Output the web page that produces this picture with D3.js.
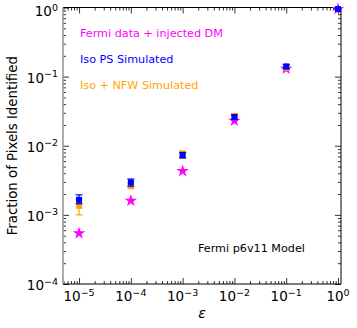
<!DOCTYPE html>
<html>
<head>
<meta charset="utf-8">
<script src="https://cdn.jsdelivr.net/npm/d3@7"></script>
<style>
  body { margin: 0; background: #fff; }
  text { font-family: "DejaVu Sans", sans-serif; }
</style>
</head>
<body>
<script>
// values
var eps = [1e-5, 1e-4, 1e-3, 1e-2, 1e-1, 1];
var fermiDM = [5.4e-4, 1.6e-3, 4.3e-3, 0.023, 0.13, 0.95];
var isoPS = [1.65e-3, 2.95e-3, 7.3e-3, 0.026, 0.14, 0.95];
var isoPSLo = [1.45e-3, 2.6e-3, 6.7e-3, 0.024, 0.13, 0.93];
var isoPSHi = [1.95e-3, 3.3e-3, 8.0e-3, 0.028, 0.15, 0.97];
var isoNFW = [1.35e-3, 2.65e-3, 7.6e-3, 0.027, 0.135, 0.95];
var isoNFWLo = [1.0e-3, 2.4e-3, 6.6e-3, 0.025, 0.125, 0.93];
var isoNFWHi = [1.7e-3, 2.9e-3, 8.4e-3, 0.029, 0.145, 0.97];
var xTickExp = [-5, -4, -3, -2, -1, 0];
var yTickExp = [-4, -3, -2, -1, 0];
var legendNames = ["Fermi data + injected DM", "Iso PS Simulated", "Iso + NFW Simulated"];
var legendColors = ["#ff00ff", "#0000ff", "#ffa500"];

var W = 357, H = 328;
var pLeft = 63, pRight = 341, pTop = 7.5, pBottom = 284;

var svg = d3.select("body").append("svg")
    .attr("width", W).attr("height", H);

var x = d3.scaleLog().domain([Math.pow(10, -5.31), Math.pow(10, 0.058)]).range([pLeft, pRight]);
var y = d3.scaleLog().domain([1e-4, 1]).range([pBottom, pTop]);

// minor ticks
function minors(lo, hi) {
    var out = [];
    for (var e = lo; e <= hi; e++) {
        for (var m = 2; m <= 9; m++) {
            out.push(m * Math.pow(10, e));
        }
    }
    return out;
}
var xMinor = minors(-6, 0).filter(function(v){ return v >= x.domain()[0] && v <= x.domain()[1]; });
var yMinor = minors(-4, -1);
var xMajor = xTickExp.map(function(e){ return Math.pow(10, e); });
var yMajor = yTickExp.map(function(e){ return Math.pow(10, e); });

function tickAxis(axisFn, scale, vals, size, tr) {
    var g = svg.append("g").attr("transform", tr)
        .call(axisFn(scale).tickValues(vals).tickSize(size).tickSizeOuter(0).tickFormat(""));
    g.select(".domain").remove();
    g.selectAll("line").attr("stroke", "#000").attr("stroke-width", 0.8);
    return g;
}
tickAxis(d3.axisBottom, x, xMajor, -6, "translate(0," + pBottom + ")");
tickAxis(d3.axisBottom, x, xMinor, -3, "translate(0," + pBottom + ")");
tickAxis(d3.axisTop, x, xMajor, -6, "translate(0," + pTop + ")");
tickAxis(d3.axisTop, x, xMinor, -3, "translate(0," + pTop + ")");
tickAxis(d3.axisLeft, y, yMajor, -6, "translate(" + pLeft + ",0)");
tickAxis(d3.axisLeft, y, yMinor, -3, "translate(" + pLeft + ",0)");
tickAxis(d3.axisRight, y, yMajor, -6, "translate(" + pRight + ",0)");
tickAxis(d3.axisRight, y, yMinor, -3, "translate(" + pRight + ",0)");

// frame
svg.append("line").attr("x1", pLeft).attr("x2", pRight).attr("y1", pTop).attr("y2", pTop).attr("stroke", "#000");
svg.append("line").attr("x1", pLeft).attr("x2", pRight).attr("y1", pBottom).attr("y2", pBottom).attr("stroke", "#000");
svg.append("line").attr("x1", pRight).attr("x2", pRight).attr("y1", pTop).attr("y2", pBottom).attr("stroke", "#000");
svg.append("line").attr("x1", pLeft).attr("x2", pLeft).attr("y1", pTop).attr("y2", pBottom)
    .attr("stroke", "#999").attr("stroke-width", 1.6);

// tick labels
function powLabel(sel, e) {
    sel.append("tspan").text("10");
    sel.append("tspan").attr("dy", -5.5).attr("font-size", 9.5).text(e < 0 ? "\u2212" + (-e) : "" + e);
}
xTickExp.forEach(function(e) {
    var t = svg.append("text").attr("x", x(Math.pow(10, e))).attr("y", 301)
        .attr("text-anchor", "middle").attr("font-size", 13.5);
    powLabel(t, e);
});
yTickExp.forEach(function(e) {
    var t = svg.append("text").attr("x", 58).attr("y", Math.max(y(Math.pow(10, e)) + 6, 16))
        .attr("text-anchor", "end").attr("font-size", 13.5);
    powLabel(t, e);
});

// axis titles
svg.append("text").attr("transform", "translate(17," + ((pTop + pBottom) / 2) + ") rotate(-90)")
    .attr("text-anchor", "middle").attr("font-size", 13.3).text("Fraction of Pixels Identified");
svg.append("text").attr("x", 202).attr("y", 318).attr("text-anchor", "middle")
    .attr("font-size", 14).attr("font-style", "italic").text("\u03b5");

// error bars
function errorBars(vals, lo, hi, color) {
    var g = svg.append("g").attr("stroke", color).attr("stroke-width", 1.2);
    eps.forEach(function(e, i) {
        var cx = x(e);
        g.append("line").attr("x1", cx).attr("x2", cx).attr("y1", y(lo[i])).attr("y2", y(hi[i]));
        g.append("line").attr("x1", cx - 3.5).attr("x2", cx + 3.5).attr("y1", y(lo[i])).attr("y2", y(lo[i]));
        g.append("line").attr("x1", cx - 3.5).attr("x2", cx + 3.5).attr("y1", y(hi[i])).attr("y2", y(hi[i]));
    });
}

// stars
var star = d3.symbol().type(d3.symbolStar).size(48);
svg.append("g").selectAll("path").data(fermiDM).enter().append("path")
    .attr("d", star)
    .attr("transform", function(d, i){ return "translate(" + x(eps[i]) + "," + y(d) + ")"; })
    .attr("fill", legendColors[0]);

errorBars(isoNFW, isoNFWLo, isoNFWHi, legendColors[2]);
svg.append("g").selectAll("rect").data(isoNFW).enter().append("rect")
    .attr("x", function(d, i){ return x(eps[i]) - 3; })
    .attr("y", function(d){ return y(d) - 3; })
    .attr("width", 6).attr("height", 6)
    .attr("fill", legendColors[2]);

errorBars(isoPS, isoPSLo, isoPSHi, legendColors[1]);
svg.append("g").selectAll("rect").data(isoPS).enter().append("rect")
    .attr("x", function(d, i){ return x(eps[i]) - 3; })
    .attr("y", function(d){ return y(d) - 3; })
    .attr("width", 6).attr("height", 6)
    .attr("fill", legendColors[1]);

// legend as coloured text
legendNames.forEach(function(n, i) {
    svg.append("text").attr("x", 80).attr("y", 37 + i * 26)
        .attr("font-size", 11.2).attr("fill", legendColors[i]).text(n);
});
svg.append("text").attr("x", 198).attr("y", 252)
    .attr("font-size", 11.2).attr("fill", "#000").text("Fermi p6v11 Model");
</script>
</body>
</html>
